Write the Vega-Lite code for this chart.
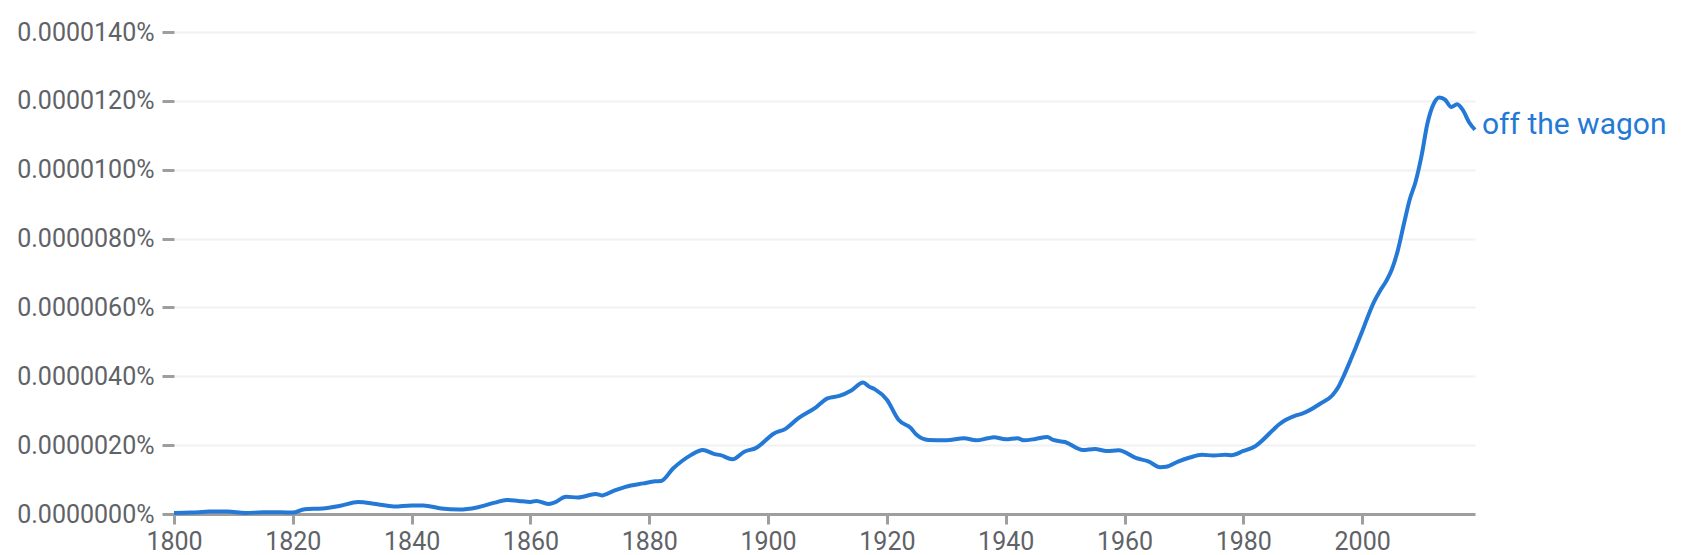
{
  "$schema": "https://vega.github.io/schema/vega-lite/v6.json",
  "width": 1301,
  "height": 482,
  "autosize": {"type": "none"},
  "padding": {"left": 174, "top": 32, "right": 206, "bottom": 41},
  "background": "white",
  "config": {
    "view": {"stroke": null},
    "font": "Roboto"
  },
  "data": {
    "values": [
      {"year": 1800, "u": 0.3}, {"year": 1803, "u": 0.4}, {"year": 1806, "u": 0.7}, {"year": 1809, "u": 0.7},
      {"year": 1812, "u": 0.3}, {"year": 1815, "u": 0.5}, {"year": 1818, "u": 0.5}, {"year": 1820, "u": 0.4},
      {"year": 1822, "u": 1.4}, {"year": 1825, "u": 1.6}, {"year": 1828, "u": 2.4}, {"year": 1831, "u": 3.5},
      {"year": 1834, "u": 2.9}, {"year": 1837, "u": 2.2}, {"year": 1840, "u": 2.5}, {"year": 1842, "u": 2.5},
      {"year": 1845, "u": 1.6}, {"year": 1848, "u": 1.3}, {"year": 1851, "u": 1.9}, {"year": 1854, "u": 3.3},
      {"year": 1856, "u": 4.1}, {"year": 1858, "u": 3.8}, {"year": 1860, "u": 3.5}, {"year": 1861, "u": 3.8},
      {"year": 1863, "u": 2.9}, {"year": 1864, "u": 3.3}, {"year": 1866, "u": 5.0}, {"year": 1868, "u": 4.8},
      {"year": 1871, "u": 5.8}, {"year": 1872, "u": 5.4}, {"year": 1874, "u": 6.7}, {"year": 1876, "u": 7.9},
      {"year": 1879, "u": 8.9}, {"year": 1881, "u": 9.5}, {"year": 1882, "u": 9.6}, {"year": 1884, "u": 13.2},
      {"year": 1887, "u": 17.1}, {"year": 1889, "u": 18.6}, {"year": 1891, "u": 17.4}, {"year": 1892, "u": 17.1},
      {"year": 1894, "u": 15.9}, {"year": 1896, "u": 18.1}, {"year": 1898, "u": 19.2}, {"year": 1901, "u": 23.4},
      {"year": 1903, "u": 24.8}, {"year": 1905, "u": 27.7}, {"year": 1908, "u": 30.9}, {"year": 1910, "u": 33.6},
      {"year": 1912, "u": 34.3}, {"year": 1914, "u": 35.9}, {"year": 1916, "u": 38.2}, {"year": 1917, "u": 37.0},
      {"year": 1918, "u": 36.2}, {"year": 1920, "u": 33.2}, {"year": 1922, "u": 27.3}, {"year": 1924, "u": 25.0},
      {"year": 1925, "u": 23.0}, {"year": 1927, "u": 21.5}, {"year": 1930, "u": 21.4}, {"year": 1933, "u": 22.0},
      {"year": 1935, "u": 21.4}, {"year": 1937, "u": 22.0}, {"year": 1938, "u": 22.3}, {"year": 1940, "u": 21.7},
      {"year": 1942, "u": 22.0}, {"year": 1943, "u": 21.4}, {"year": 1945, "u": 21.8}, {"year": 1947, "u": 22.4},
      {"year": 1948, "u": 21.5}, {"year": 1950, "u": 20.9}, {"year": 1953, "u": 18.6}, {"year": 1955, "u": 18.9},
      {"year": 1957, "u": 18.3}, {"year": 1959, "u": 18.5}, {"year": 1962, "u": 16.2}, {"year": 1964, "u": 15.3},
      {"year": 1966, "u": 13.6}, {"year": 1967, "u": 13.7}, {"year": 1969, "u": 15.2}, {"year": 1971, "u": 16.4},
      {"year": 1973, "u": 17.2}, {"year": 1975, "u": 17.0}, {"year": 1977, "u": 17.2}, {"year": 1978, "u": 17.1},
      {"year": 1980, "u": 18.3}, {"year": 1982, "u": 19.7}, {"year": 1985, "u": 24.4}, {"year": 1986, "u": 26.0},
      {"year": 1989, "u": 28.7}, {"year": 1990, "u": 29.2}, {"year": 1993, "u": 32.1}, {"year": 1995, "u": 34.5},
      {"year": 1996, "u": 36.9}, {"year": 1997, "u": 40.5}, {"year": 1998, "u": 44.5}, {"year": 1999, "u": 48.7},
      {"year": 2000, "u": 53.0}, {"year": 2001, "u": 57.5}, {"year": 2002, "u": 61.6}, {"year": 2003, "u": 64.8},
      {"year": 2004, "u": 67.5}, {"year": 2005, "u": 71.0}, {"year": 2006, "u": 76.5}, {"year": 2007, "u": 84.0},
      {"year": 2008, "u": 91.3}, {"year": 2009, "u": 96.5}, {"year": 2010, "u": 104.0}, {"year": 2011, "u": 113.5},
      {"year": 2012, "u": 119.0}, {"year": 2013, "u": 121.0}, {"year": 2014, "u": 120.3}, {"year": 2015, "u": 118.2},
      {"year": 2016, "u": 119.0}, {"year": 2017, "u": 117.2}, {"year": 2018, "u": 113.8}, {"year": 2019, "u": 111.6, "label": "off the wagon"}
    ]
  },
  "encoding": {
    "x": {
      "field": "year",
      "type": "quantitative",
      "scale": {"domain": [1800, 2019], "nice": false, "zero": false},
      "axis": {
        "title": null,
        "values": [1800, 1820, 1840, 1860, 1880, 1900, 1920, 1940, 1960, 1980, 2000],
        "format": "d",
        "grid": false,
        "domainColor": "#9e9e9e",
        "domainWidth": 3,
        "tickColor": "#9e9e9e",
        "tickWidth": 3,
        "tickSize": 10,
        "labelFontSize": 25,
        "labelFont": "Roboto",
        "labelColor": "#5f6368",
        "labelPadding": 5,
        "labelFlush": false,
        "labelOverlap": false
      }
    },
    "y": {
      "field": "u",
      "type": "quantitative",
      "scale": {"domain": [0, 140], "nice": false},
      "axis": {
        "title": null,
        "values": [0, 20, 40, 60, 80, 100, 120, 140],
        "labelExpr": "'0.0000' + pad(format(datum.value, 'd'), 3, '0', 'left') + '%'",
        "domain": false,
        "grid": true,
        "gridColor": "#f1f1f1",
        "gridWidth": 2,
        "tickColor": "#9e9e9e",
        "tickWidth": 3,
        "tickSize": 12,
        "labelFontSize": 25,
        "labelFont": "Roboto",
        "labelColor": "#5f6368",
        "labelPadding": 8,
        "labelFlush": false,
        "labelOverlap": false
      }
    }
  },
  "layer": [
    {
      "mark": {"type": "line", "color": "#2479d6", "strokeWidth": 4, "interpolate": "monotone"}
    },
    {
      "transform": [{"filter": "datum.label != null"}],
      "mark": {"type": "text", "align": "left", "baseline": "middle", "dx": 7, "dy": -5, "fontSize": 30, "font": "Roboto", "color": "#2479d6"},
      "encoding": {"text": {"field": "label"}}
    }
  ]
}
